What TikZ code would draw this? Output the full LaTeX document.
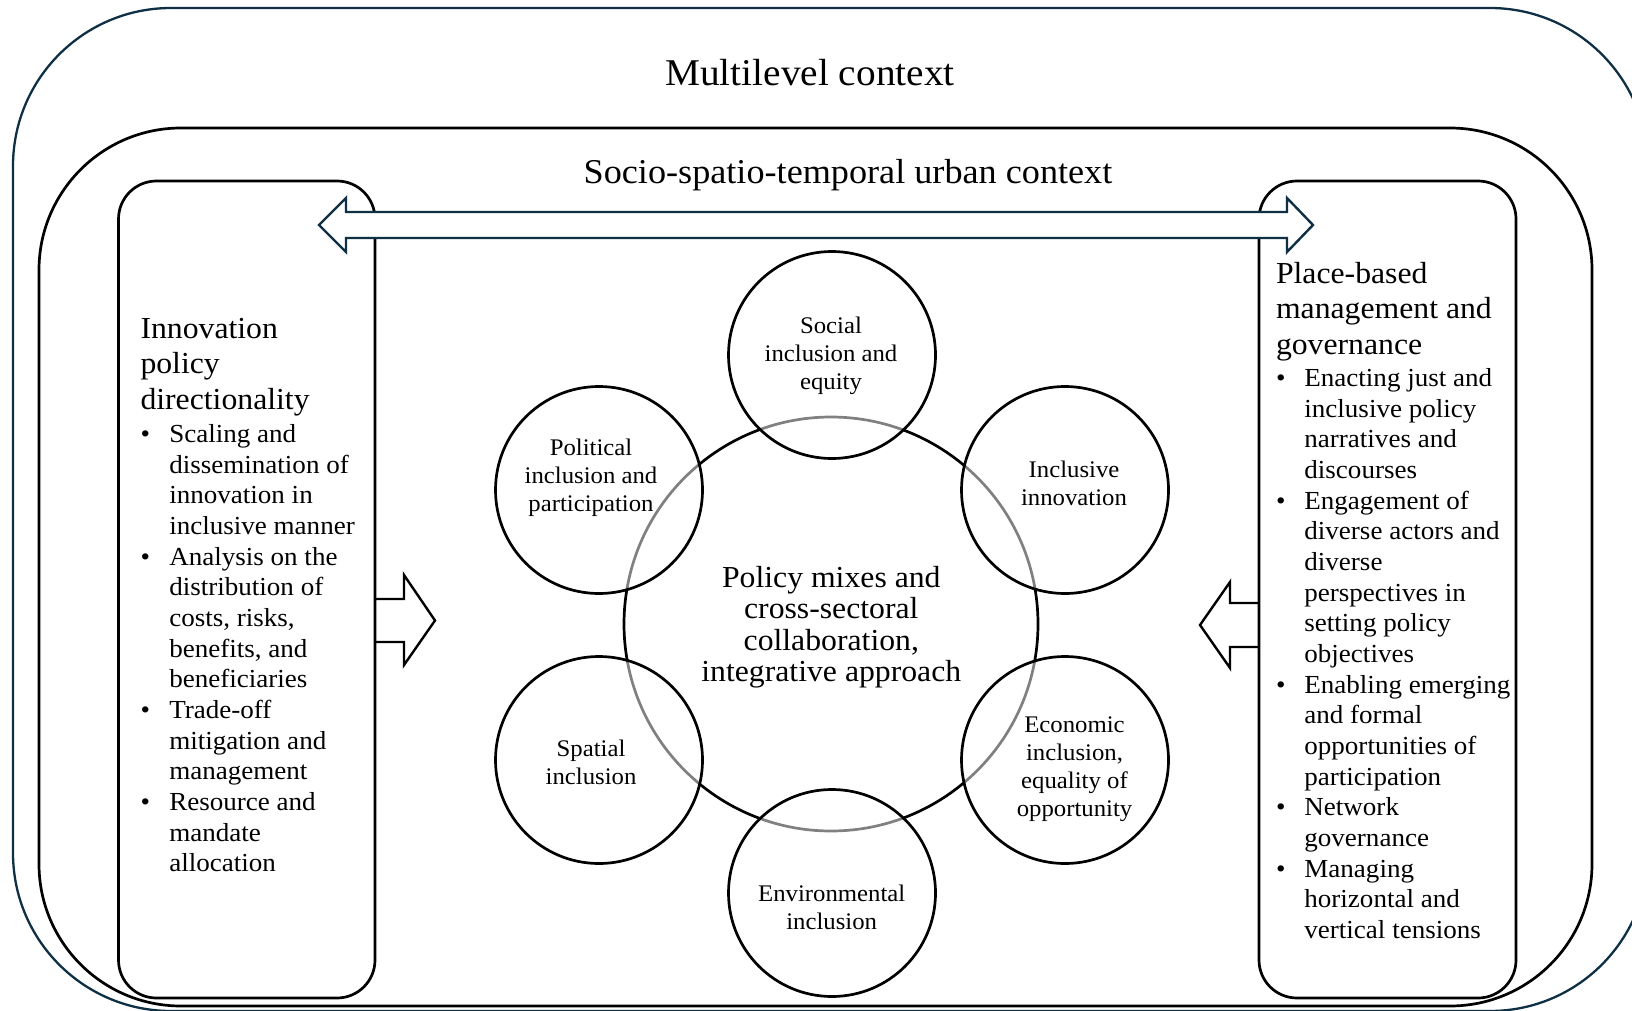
\documentclass[tikz,border=0pt]{standalone}
\usepackage{fontspec}
\setmainfont{Liberation Serif}[FakeStretch=1.04]
\definecolor{frameteal}{RGB}{14,47,68}

% font sizes (picture unit: 1 unit = 0.5pt)
\newcommand\titlefont{\fontsize{18.9}{22}\selectfont}
\newcommand\subtitlefont{\fontsize{17.4}{20}\selectfont}
\newcommand\headfont{\fontsize{15.25}{17.7}\selectfont}
\newcommand\bulfont{\fontsize{13}{15.33}\selectfont}
\newcommand\ringfont{\fontsize{11.9}{14.05}\selectfont}
\newcommand\corefont{\fontsize{15.25}{15.75}\selectfont}

\tikzset{
  boxline/.style={draw=black, line width=1.35pt},
  outerline/.style={draw=frameteal, line width=1.15pt},
  ring/.style={circle, draw=black, line width=1.35pt, fill=white, fill opacity=0.5,
               minimum size=207pt*0.5, inner sep=0pt},
  core/.style={circle, draw=black, line width=1.35pt, minimum size=414pt*0.5, inner sep=0pt},
  txt/.style={inner sep=0pt, outer sep=0pt, text opacity=1},
  blockarrow/.style={line width=1.2pt, fill=white, line join=miter}
}

\begin{document}
\begin{tikzpicture}[x=0.5pt, y=-0.5pt]
\useasboundingbox (0,0) rectangle (1632,1011);
\clip (0,0) rectangle (1632,1011);

% nested context frames
\draw[outerline, rounded corners=79pt] (13,8) rectangle (1648,1011);
\draw[boxline, rounded corners=71pt] (39,128) rectangle (1592,1006);

% arrows from the panels towards the centre
\filldraw[blockarrow, draw=black]
  (375,599) -- (404,599) -- (404,575) -- (435,620.5) -- (404,665) -- (404,642) -- (375,642);
\filldraw[blockarrow, draw=black]
  (1259,603) -- (1230,603) -- (1230,582) -- (1200,625) -- (1230,668) -- (1230,647) -- (1259,647);

% side panels
\draw[boxline, rounded corners=19pt] (118.5,181) rectangle (375,998);
\draw[boxline, rounded corners=19pt] (1259,181) rectangle (1516,998);

% two-headed arrow linking the side panels
\filldraw[blockarrow, draw=frameteal]
  (319,225) -- (346,198) -- (346,212) -- (1287,212) -- (1287,198) -- (1313,225)
  -- (1287,252) -- (1287,238) -- (346,238) -- (346,252) -- cycle;

% titles
\node[txt, anchor=base] (multi) at (810,86) {\titlefont Multilevel context};
\node[txt, anchor=base] (urban) at (848,184) {\subtitlefont Socio-spatio-temporal urban context};

% central circle and the six dimensions around it
\node[core] (core) at (831,624) {};
\node[ring] (social) at (832,355) {};
\node[ring] (political) at (599,490) {};
\node[ring] (innov) at (1065,490) {};
\node[ring] (spatial) at (599,760) {};
\node[ring] (economic) at (1065,760) {};
\node[ring] (environ) at (832,893) {};

\node[txt, anchor=base] (coretxt) at (831.3,587) {\corefont\begin{tabular}[t]{@{}c@{}}
Policy mixes and\\cross-sectoral\\collaboration,\\integrative approach\end{tabular}};

\node[txt, anchor=base] (socialtxt) at (831,333.5) {\ringfont\begin{tabular}[t]{@{}c@{}}
Social\\inclusion and\\equity\end{tabular}};
\node[txt, anchor=base] (politicaltxt) at (591,455) {\ringfont\begin{tabular}[t]{@{}c@{}}
Political\\inclusion and\\participation\end{tabular}};
\node[txt, anchor=base] (innovtxt) at (1074,477.5) {\ringfont\begin{tabular}[t]{@{}c@{}}
Inclusive\\innovation\end{tabular}};
\node[txt, anchor=base] (spatialtxt) at (591,756) {\ringfont\begin{tabular}[t]{@{}c@{}}
Spatial\\inclusion\end{tabular}};
\node[txt, anchor=base] (economictxt) at (1074.5,732.5) {\ringfont\begin{tabular}[t]{@{}c@{}}
Economic\\inclusion,\\equality of\\opportunity\end{tabular}};
\node[txt, anchor=base] (environtxt) at (831.7,901.5) {\ringfont\begin{tabular}[t]{@{}c@{}}
Environmental\\inclusion\end{tabular}};

% left panel text
\node[txt, anchor=base west] (lhead) at (140.5,338.5) {\headfont\begin{tabular}[t]{@{}l@{}}
Innovation\\policy\\directionality\end{tabular}};
\node[txt, anchor=base west] (lbul) at (140.5,442.5) {\bulfont\begin{tabular}[t]{@{}p{14.4pt}@{}l@{}}
\textbullet & Scaling and\\
 & dissemination of\\
 & innovation in\\
 & inclusive manner\\
\textbullet & Analysis on the\\
 & distribution of\\
 & costs, risks,\\
 & benefits, and\\
 & beneficiaries\\
\textbullet & Trade-off\\
 & mitigation and\\
 & management\\
\textbullet & Resource and\\
 & mandate\\
 & allocation
\end{tabular}};

% right panel text
\node[txt, anchor=base west] (rhead) at (1276,283.5) {\headfont\begin{tabular}[t]{@{}l@{}}
Place-based\\management and\\governance\end{tabular}};
\node[txt, anchor=base west] (rbul) at (1276,386.5) {\bulfont\begin{tabular}[t]{@{}p{14.2pt}@{}l@{}}
\textbullet & Enacting just and\\
 & inclusive policy\\
 & narratives and\\
 & discourses\\
\textbullet & Engagement of\\
 & diverse actors and\\
 & diverse\\
 & perspectives in\\
 & setting policy\\
 & objectives\\
\textbullet & Enabling emerging\\
 & and formal\\
 & opportunities of\\
 & participation\\
\textbullet & Network\\
 & governance\\
\textbullet & Managing\\
 & horizontal and\\
 & vertical tensions
\end{tabular}};
\end{tikzpicture}
\end{document}
